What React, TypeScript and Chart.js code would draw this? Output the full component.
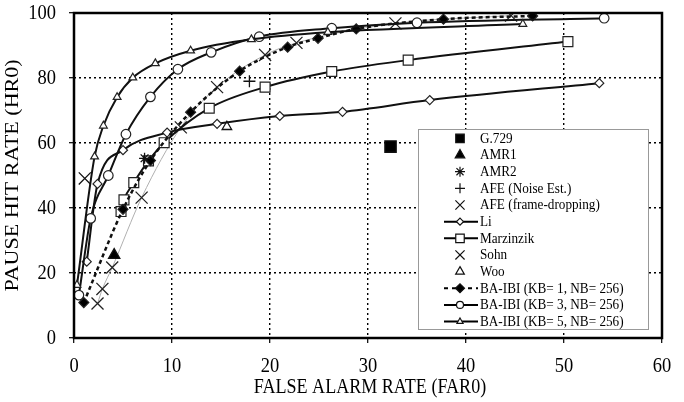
import React, { useEffect, useRef } from "react";
import { Chart, registerables } from "chart.js";
import { drawPoint } from "chart.js/helpers";

Chart.register(...registerables);

// ---- data ----
const liX = [1.3, 2.4, 5.0, 9.5, 14.6, 21.0, 27.4, 36.3, 53.6];
const liY = [23.5, 47.4, 57.8, 63.2, 65.9, 68.3, 69.6, 73.2, 78.4];

const marzX = [4.8, 5.1, 6.1, 7.6, 9.2, 13.8, 19.5, 26.3, 34.1, 50.4];
const marzY = [38.9, 42.5, 47.8, 54.5, 60.1, 70.7, 77.2, 82.0, 85.5, 91.2];

const sohnX = [2.4, 2.9, 3.9, 6.9, 10.9, 14.6, 19.5, 22.7, 32.8, 44.6];
const sohnY = [10.6, 15.1, 21.7, 43.2, 64.8, 77.2, 87.1, 90.8, 96.8, 99.2];

const kb1X = [1.0, 5.0, 7.8, 11.9, 16.9, 21.8, 24.9, 28.8, 37.7, 46.8];
const kb1Y = [10.9, 39.6, 54.6, 69.5, 82.1, 89.5, 92.2, 95.1, 98.1, 99.1];

const kb3X = [0.5, 1.7, 3.5, 5.3, 7.8, 10.6, 14.0, 18.9, 26.3, 35.0, 54.1];
const kb3Y = [13.2, 36.8, 50.0, 62.7, 74.2, 82.7, 87.9, 92.7, 95.3, 97.0, 98.4];

const kb5X = [0.3, 2.1, 3.0, 4.4, 6.0, 8.3, 11.9, 18.1, 25.9, 45.8];
const kb5Y = [16.3, 55.8, 65.3, 74.1, 80.1, 84.5, 88.4, 91.9, 94.1, 96.6];

const g729 = [32.3, 58.9];
const amr1 = [4.1, 25.5];
const amr2 = [7.2, 55.3];
const afeNoise = [17.9, 79.0];
const afeFrame = [1.1, 49.1];
const woo = [15.6, 65.0];

const xTicks = [0, 10, 20, 30, 40, 50, 60];
const yTicks = [0, 20, 40, 60, 80, 100];

const xTitle = "FALSE ALARM RATE (FAR0)";
const yTitle = "PAUSE HIT RATE (HR0)";

const legendLabels = [
  "G.729",
  "AMR1",
  "AMR2",
  "AFE (Noise Est.)",
  "AFE (frame-dropping)",
  "Li",
  "Marzinzik",
  "Sohn",
  "Woo",
  "BA-IBI (KB= 1, NB= 256)",
  "BA-IBI (KB= 3, NB= 256)",
  "BA-IBI (KB= 5, NB= 256)",
];

const FONT = "'Liberation Serif', 'Times New Roman', serif";

const pts = (xs: number[], ys: number[]) => xs.map((x, i) => ({ x, y: ys[i] }));
const one = (p: number[]) => [{ x: p[0], y: p[1] }];

// narrow serif text: drawn with a horizontal squeeze
function squeezedText(
  ctx: CanvasRenderingContext2D,
  text: string,
  x: number,
  y: number,
  size: number,
  squeeze: number,
  align: CanvasTextAlign,
  vertical = false
) {
  ctx.save();
  ctx.translate(x, y);
  if (vertical) {
    ctx.rotate(-Math.PI / 2);
    ctx.scale(1, squeeze);
  } else {
    ctx.scale(squeeze, 1);
  }
  ctx.font = `${size}px ${FONT}`;
  ctx.fillStyle = "#000";
  ctx.textAlign = align;
  ctx.textBaseline = "middle";
  ctx.fillText(text, 0, 0);
  ctx.restore();
}

type Sym = {
  style: string;
  r: number;
  fill: string;
  line?: "solid" | "dash";
};

// legend symbols, same order as legendLabels
const legendSyms: Sym[] = [
  { style: "rect", r: 6, fill: "#000" },
  { style: "triangle", r: 5.5, fill: "#000" },
  { style: "star", r: 5, fill: "#000" },
  { style: "cross", r: 5, fill: "#000" },
  { style: "crossRot", r: 6.5, fill: "#000" },
  { style: "rectRot", r: 3.5, fill: "#fff", line: "solid" },
  { style: "rect", r: 6, fill: "#fff", line: "solid" },
  { style: "crossRot", r: 6.5, fill: "#000" },
  { style: "triangle", r: 5, fill: "#fff" },
  { style: "rectRot", r: 4.5, fill: "#000", line: "dash" },
  { style: "circle", r: 3.5, fill: "#fff", line: "solid" },
  { style: "triangle", r: 3.5, fill: "#fff", line: "solid" },
];

const legendPlugin = {
  id: "boxLegend",
  afterDatasetsDraw(chart: any) {
    const ctx = chart.ctx as CanvasRenderingContext2D;
    const bx = 418.5, by = 129.5, bw = 230, bh = 200;
    ctx.save();
    ctx.fillStyle = "#fff";
    ctx.fillRect(bx, by, bw, bh);
    ctx.strokeStyle = "#999";
    ctx.lineWidth = 1;
    ctx.strokeRect(bx, by, bw, bh);
    legendLabels.forEach((label, i) => {
      const y = 138.4 + i * 16.65;
      const s = legendSyms[i];
      if (s.line) {
        ctx.save();
        ctx.strokeStyle = "#000";
        ctx.lineWidth = 2;
        if (s.line === "dash") ctx.setLineDash([4, 4]);
        ctx.beginPath();
        ctx.moveTo(444, y);
        ctx.lineTo(478, y);
        ctx.stroke();
        ctx.restore();
      }
      ctx.fillStyle = s.fill;
      ctx.strokeStyle = "#111";
      ctx.lineWidth = 1.2;
      drawPoint(ctx, { pointStyle: s.style, radius: s.r, rotation: 0, borderWidth: 1.2 } as any, 460, y);
      squeezedText(ctx, label, 480, y + 0.5, 15, 0.88, "left");
    });
    ctx.restore();
  },
};

// frame, tick labels and axis titles
const framePlugin = {
  id: "frame",
  afterDraw(chart: any) {
    const { ctx, chartArea: a, scales } = chart;
    ctx.save();
    ctx.strokeStyle = "#000";
    ctx.lineWidth = 2.5;
    ctx.strokeRect(a.left, a.top, a.right - a.left, a.bottom - a.top);
    ctx.restore();

    xTicks.forEach((v) => {
      squeezedText(ctx, String(v), scales.x.getPixelForValue(v), a.bottom + 28, 21, 0.88, "center");
    });
    yTicks.forEach((v) => {
      squeezedText(ctx, String(v), a.left - 18, scales.y.getPixelForValue(v) + 0.5, 21, 0.88, "right");
    });
    squeezedText(ctx, xTitle, (a.left + a.right) / 2 + 2, 387, 22, 0.82, "center");
    squeezedText(ctx, yTitle, 13, (a.top + a.bottom) / 2, 22, 0.82, "center", true);
  },
};

export default function App() {
  const ref = useRef<HTMLCanvasElement | null>(null);

  useEffect(() => {
    if (!ref.current) return;

    const curve = (data: any[], style: string, r: number, fill: string, extra: any = {}) => ({
      data,
      showLine: true,
      borderColor: "#111",
      borderWidth: 2,
      cubicInterpolationMode: "monotone",
      pointStyle: style,
      pointRadius: r,
      pointBackgroundColor: fill,
      pointBorderColor: "#222",
      pointBorderWidth: 1.2,
      ...extra,
    });
    const single = (data: any[], style: string, r: number, fill: string) => ({
      data,
      showLine: false,
      pointStyle: style,
      pointRadius: r,
      pointBackgroundColor: fill,
      pointBorderColor: "#111",
      pointBorderWidth: 1.3,
      borderColor: "#111",
      backgroundColor: fill,
    });

    const gridOpts = {
      color: "#000",
      lineWidth: 1.4,
      drawTicks: true,
      tickLength: 5,
      tickColor: "#000",
      tickWidth: 1.2,
      tickBorderDash: [],
    };

    const chart = new Chart(ref.current, {
      type: "scatter",
      data: {
        datasets: [
          { label: "G.729", ...single(one(g729), "rect", 8, "#000") },
          { label: "AMR1", ...single(one(amr1), "triangle", 6.5, "#000") },
          { label: "AMR2", ...single(one(amr2), "star", 5.5, "#000") },
          { label: "AFE (Noise Est.)", ...single(one(afeNoise), "cross", 6, "#000") },
          { label: "AFE (frame-dropping)", ...single(one(afeFrame), "crossRot", 8.5, "#000") },
          { label: "BA-IBI (KB= 5, NB= 256)", ...curve(pts(kb5X, kb5Y), "triangle", 4.5, "#fff") },
          { label: "BA-IBI (KB= 3, NB= 256)", ...curve(pts(kb3X, kb3Y), "circle", 4.8, "#fff") },
          {
            label: "BA-IBI (KB= 1, NB= 256)",
            ...curve(pts(kb1X, kb1Y), "rectRot", 5, "#000", { borderDash: [4, 3], borderWidth: 2.5 }),
          },
          { label: "Li", ...curve(pts(liX, liY), "rectRot", 4.5, "#fff") },
          { label: "Marzinzik", ...curve(pts(marzX, marzY), "rect", 7, "#fff") },
          { label: "Woo", ...single(one(woo), "triangle", 5.5, "rgba(255,255,255,0)") },
          {
            label: "Sohn",
            ...curve(pts(sohnX, sohnY), "crossRot", 8.5, "#000", {
              borderColor: "#b0b0b0",
              borderWidth: 1,
              pointBorderColor: "#222",
              pointBorderWidth: 1.3,
            }),
          },
        ],
      },
      options: {
        animation: false,
        responsive: false,
        events: [],
        layout: { padding: { top: 13, right: 22, left: 0, bottom: 0 } },
        plugins: { legend: { display: false }, tooltip: { enabled: false } },
        scales: {
          x: {
            type: "linear",
            min: 0,
            max: 60,
            afterBuildTicks: (s: any) => {
              s.ticks = xTicks.map((v) => ({ value: v }));
            },
            afterFit: (s: any) => {
              s.height = 64;
            },
            ticks: { display: false },
            grid: gridOpts,
            border: { display: false, dash: [2, 3] },
            title: { display: false },
          },
          y: {
            type: "linear",
            min: 0,
            max: 100,
            afterBuildTicks: (s: any) => {
              s.ticks = yTicks.map((v) => ({ value: v }));
            },
            afterFit: (s: any) => {
              s.width = 74;
            },
            ticks: { display: false },
            grid: gridOpts,
            border: { display: false, dash: [2, 3] },
            title: { display: false },
          },
        },
      } as any,
      plugins: [legendPlugin, framePlugin],
    });

    return () => chart.destroy();
  }, []);

  return (
    <div style={{ position: "absolute", left: 0, top: 0, width: 684, height: 402, background: "#fff" }}>
      <canvas ref={ref} width={684} height={402} style={{ display: "block" }} />
    </div>
  );
}
